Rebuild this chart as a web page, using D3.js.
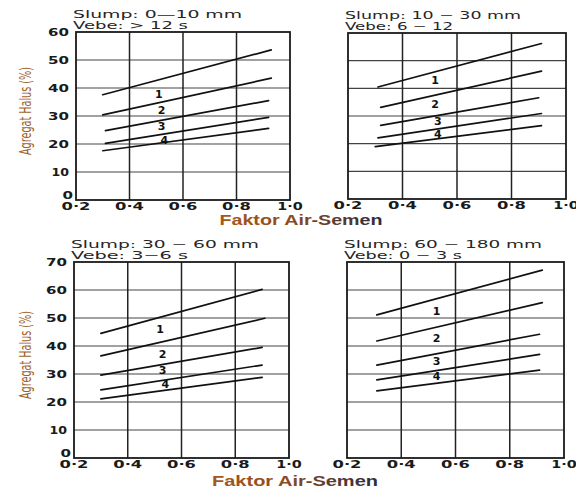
<!DOCTYPE html>
<html>
<head>
<meta charset="utf-8">
<script src="https://cdn.jsdelivr.net/npm/d3@7"></script>
<style>
  html, body { margin: 0; padding: 0; background: #fff; }
  svg { display: block; }
</style>
</head>
<body>
<svg id="chart" width="576" height="493"></svg>
<script>
// ---------- data ----------
const xTickValues = [0.2, 0.4, 0.6, 0.8, 1.0];
const xTickLabels = ["0·2", "0·4", "0·6", "0·8", "1·0"];
const yTicksTop = [0, 10, 20, 30, 40, 50, 60];
const yTicksBottom = [0, 10, 20, 30, 40, 50, 60, 70];
const curveNames = ["1", "2", "3", "4"];

// each line: [x start, y start, x end, y end]
const linesSlump0to10 = [
  [0.30, 37.6, 0.93, 53.6],
  [0.30, 30.4, 0.93, 43.5],
  [0.31, 24.8, 0.92, 35.5],
  [0.31, 20.2, 0.92, 29.5],
  [0.30, 17.6, 0.92, 25.6]
];
const labelsSlump0to10 = [[0.51, 37.8], [0.52, 32.0], [0.52, 26.4], [0.53, 21.4]];

const linesSlump10to30 = [
  [0.31, 40.5, 0.91, 56.2],
  [0.32, 33.1, 0.91, 46.2],
  [0.32, 26.6, 0.90, 36.6],
  [0.31, 22.1, 0.91, 30.9],
  [0.30, 18.9, 0.91, 26.5]
];
const labelsSlump10to30 = [[0.52, 43.0], [0.52, 34.2], [0.53, 28.0], [0.53, 23.3]];

const linesSlump30to60 = [
  [0.30, 44.5, 0.90, 60.2],
  [0.30, 36.5, 0.91, 49.9],
  [0.30, 29.6, 0.90, 39.5],
  [0.30, 24.3, 0.90, 33.2],
  [0.30, 21.1, 0.90, 28.8]
];
const labelsSlump30to60 = [[0.52, 46.0], [0.53, 37.1], [0.53, 31.2], [0.54, 26.1]];

const linesSlump60to180 = [
  [0.31, 51.1, 0.92, 67.1],
  [0.31, 41.8, 0.92, 55.5],
  [0.31, 33.2, 0.91, 44.2],
  [0.31, 27.9, 0.91, 37.0],
  [0.31, 24.0, 0.91, 31.4]
];
const labelsSlump60to180 = [[0.53, 52.3], [0.53, 42.7], [0.53, 34.4], [0.53, 29.0]];

const titleLine1 = ["Slump: 0—10 mm", "Slump: 10 − 30 mm", "Slump: 30 − 60 mm", "Slump: 60 − 180 mm"];
const titleLine2 = ["Vebe: > 12 s", "Vebe: 6 − 12", "Vebe: 3−6 s", "Vebe: 0 − 3 s"];
const yAxisTitle = "Agregat Halus (%)";
const xAxisTitle = "Faktor Air-Semen";

// ---------- layout ----------
const panels = [
  { lines: linesSlump0to10, labels: labelsSlump0to10, yTicks: yTicksTop, yMax: 60,
    x0: 76, x1: 290, yTop: 32, yBot: 200, showY: true, t1w: 169, t2w: 115 },
  { lines: linesSlump10to30, labels: labelsSlump10to30, yTicks: yTicksTop, yMax: 60,
    x0: 348, x1: 566, yTop: 33, yBot: 199, showY: false, t1w: 176, t2w: 108 },
  { lines: linesSlump30to60, labels: labelsSlump30to60, yTicks: yTicksBottom, yMax: 70,
    x0: 74, x1: 289, yTop: 262, yBot: 458, showY: true, t1w: 188, t2w: 117 },
  { lines: linesSlump60to180, labels: labelsSlump60to180, yTicks: yTicksBottom, yMax: 70,
    x0: 347, x1: 564, yTop: 262, yBot: 458, showY: false, t1w: 198, t2w: 118 }
];

const svg = d3.select("#chart");
const defs = svg.append("defs");
const grad = defs.append("linearGradient").attr("id", "xtitleGrad")
  .attr("x1", "0%").attr("x2", "100%");
grad.append("stop").attr("offset", "0%").attr("stop-color", "#a8581c");
grad.append("stop").attr("offset", "45%").attr("stop-color", "#8a4a22");
grad.append("stop").attr("offset", "100%").attr("stop-color", "#2c2c3e");

const tickFont = "'DejaVu Sans', sans-serif";
function tickWidth(s) {
  let w = 0;
  for (const c of s) w += (c === "·") ? 8 : (c === "1" ? 7 : 10.5);
  return w;
}

panels.forEach((p, i) => {
  const x = d3.scaleLinear().domain([0.2, 1.0]).range([p.x0, p.x1]);
  const y = d3.scaleLinear().domain([0, p.yMax]).range([p.yBot, p.yTop]);
  const g = svg.append("g");

  // horizontal grid
  g.append("g").selectAll("line").data(p.yTicks.filter(v => v > 0 && v < p.yMax)).join("line")
    .attr("x1", p.x0).attr("x2", p.x1)
    .attr("y1", d => y(d)).attr("y2", d => y(d))
    .attr("stroke", "#444").attr("stroke-width", 1.1);

  // vertical grid
  g.append("g").selectAll("line").data(xTickValues.filter(v => v > 0.2 && v < 1.0)).join("line")
    .attr("x1", d => x(d)).attr("x2", d => x(d))
    .attr("y1", p.yTop).attr("y2", p.yBot)
    .attr("stroke", "#222").attr("stroke-width", 1.5);

  // frame
  g.append("rect")
    .attr("x", p.x0).attr("y", p.yTop)
    .attr("width", p.x1 - p.x0).attr("height", p.yBot - p.yTop)
    .attr("fill", "none").attr("stroke", "#1a1a1a").attr("stroke-width", 1.8);

  // data lines
  g.append("g").selectAll("line").data(p.lines).join("line")
    .attr("x1", d => x(d[0])).attr("y1", d => y(d[1]))
    .attr("x2", d => x(d[2])).attr("y2", d => y(d[3]))
    .attr("stroke", "#111").attr("stroke-width", 1.7).attr("stroke-linecap", "round");

  // curve numbers
  g.append("g").selectAll("text").data(p.labels).join("text")
    .attr("x", d => x(d[0])).attr("y", d => y(d[1]))
    .attr("text-anchor", "middle").attr("dominant-baseline", "central")
    .attr("font-family", tickFont).attr("font-weight", "bold").attr("font-size", 11)
    .attr("fill", "#111")
    .text((d, k) => curveNames[k]);

  // x tick labels
  g.append("g").selectAll("text").data(xTickValues).join("text")
    .attr("x", d => x(d)).attr("y", p.yBot + 10)
    .attr("text-anchor", "middle")
    .attr("font-family", tickFont).attr("font-weight", "bold").attr("font-size", 11)
    .attr("fill", "#1a1a1a")
    .attr("textLength", (d, k) => tickWidth(xTickLabels[k]))
    .attr("lengthAdjust", "spacingAndGlyphs")
    .text((d, k) => xTickLabels[k]);

  // y tick labels
  if (p.showY) {
    g.append("g").selectAll("text").data(p.yTicks).join("text")
      .attr("x", d => d === 0 ? p.x0 - 3 : p.x0 - 7)
      .attr("y", d => d === 0 ? y(d) - 1.5 : y(d) + 4)
      .attr("text-anchor", "end")
      .attr("font-family", tickFont).attr("font-weight", "bold").attr("font-size", 11)
      .attr("fill", "#1a1a1a")
      .attr("textLength", d => tickWidth(String(d)))
      .attr("lengthAdjust", "spacingAndGlyphs")
      .text(d => String(d));

    g.append("text")
      .attr("transform", `translate(31, ${(p.yTop + p.yBot) / 2 - 5}) rotate(-90)`)
      .attr("text-anchor", "middle")
      .attr("font-family", "'Liberation Sans Narrow', 'DejaVu Sans Condensed', sans-serif")
      .attr("font-size", 16)
      .attr("fill", "#a0622e")
      .attr("textLength", 88).attr("lengthAdjust", "spacingAndGlyphs")
      .text(yAxisTitle);
  }

  // titles
  g.append("text")
    .attr("x", p.x0 - 3).attr("y", p.yTop - 14.5)
    .attr("font-family", tickFont).attr("font-size", 10.5)
    .attr("fill", "#262626")
    .attr("textLength", p.t1w).attr("lengthAdjust", "spacingAndGlyphs")
    .text(titleLine1[i]);
  g.append("text")
    .attr("x", p.x0 - 3).attr("y", p.yTop - 3)
    .attr("font-family", tickFont).attr("font-size", 10.5)
    .attr("fill", "#262626")
    .attr("textLength", p.t2w).attr("lengthAdjust", "spacingAndGlyphs")
    .text(titleLine2[i]);
});

// x axis titles
[[301, 225, 163], [295, 486, 166]].forEach(([cx, by, w]) => {
  svg.append("text")
    .attr("x", cx).attr("y", by)
    .attr("text-anchor", "middle")
    .attr("font-family", "'Liberation Sans', Arial, sans-serif")
    .attr("font-weight", "bold").attr("font-size", 14)
    .attr("fill", "url(#xtitleGrad)")
    .attr("textLength", w).attr("lengthAdjust", "spacingAndGlyphs")
    .text(xAxisTitle);
});
</script>
</body>
</html>
